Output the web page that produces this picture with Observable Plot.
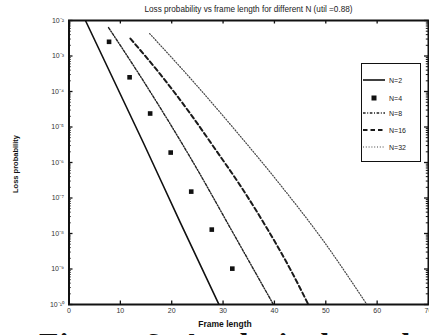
<!DOCTYPE html>
<html><head><meta charset="utf-8">
<script src="https://cdn.jsdelivr.net/npm/d3@7"></script>
<script src="https://cdn.jsdelivr.net/npm/@observablehq/plot@0.6"></script>
<style>
html,body{margin:0;padding:0;background:#fff;overflow:hidden;width:429px;height:335px;}
#wrap{position:relative;width:429px;height:335px;font-family:"Liberation Sans",Arial,sans-serif;}
#title{position:absolute;left:0;width:429px;top:5px;text-align:center;font-size:8.2px;color:#222;padding-left:68px;box-sizing:border-box;white-space:nowrap;}
#ylab{position:absolute;left:15px;top:164px;transform:translate(-50%,-50%) rotate(-90deg);font-size:7.5px;font-weight:bold;white-space:nowrap;color:#111;}
#xlab{position:absolute;left:225px;top:319px;transform:translateX(-50%);font-size:8.5px;font-weight:bold;white-space:nowrap;color:#111;z-index:2;}
#caption{position:absolute;left:39px;top:328px;font-family:"Liberation Serif","Times New Roman",serif;font-weight:bold;font-size:32px;line-height:32px;letter-spacing:1px;white-space:nowrap;color:#111;}
#legend{position:absolute;left:361px;top:63px;width:58px;height:97px;border:1.6px solid #111;background:#fff;}
.lg{position:absolute;left:0;height:10px;display:flex;align-items:center;font-size:7px;color:#222;}
.lg svg{display:block;margin-right:3px;}
#chart{position:absolute;left:0;top:0;}
</style></head>
<body><div id="wrap">
<div id="chart"></div>
<div id="title">Loss probability vs frame length for different N (util =0.88)</div>
<div id="ylab">Loss probability</div>
<div id="caption">Figure 6: Analytical results</div>
<div id="xlab">Frame length</div>
<div id="legend"></div>
</div>
<script>
// ---- data (log10 of loss probability) ----
const seriesNames = ["N=2", "N=4", "N=8", "N=16", "N=32"];
const n2X = [3.2, 14.5, 21.7, 29.2];
const n2LogP = [-2, -5.45, -7.7, -10];
const n4X = [7.8, 11.8, 15.8, 19.8, 23.8, 27.8, 31.8];
const n4LogP = [-2.6, -3.6, -4.62, -5.72, -6.82, -7.89, -8.99];
const n8X = [7.7, 13.5, 19.35, 25.2, 31.0, 39.8];
const n8LogP = [-2.2, -3.48, -4.83, -6.25, -7.74, -10];
const n16X = [11.96, 17.8, 23.6, 28.5, 33.35, 38.2, 43.1, 46.6];
const n16LogP = [-2.51, -3.52, -4.62, -5.63, -6.65, -7.77, -9.01, -10];
const n32X = [15.7, 24.2, 32.6, 41.1, 49.55, 58.0];
const n32LogP = [-2.37, -3.72, -5.13, -6.62, -8.21, -10];
const xTicks = [0, 10, 20, 30, 40, 50, 60, 70];
const yTicks = [1e-10, 1e-9, 1e-8, 1e-7, 1e-6, 1e-5, 1e-4, 1e-3, 1e-2];
const yTickLabels = ["10⁻¹⁰", "10⁻⁹", "10⁻⁸", "10⁻⁷", "10⁻⁶", "10⁻⁵", "10⁻⁴", "10⁻³", "10⁻²"];

const toRows = (xs, ls) => xs.map((x, i) => ({x, p: Math.pow(10, ls[i])}));
const d2 = toRows(n2X, n2LogP), d4 = toRows(n4X, n4LogP), d8 = toRows(n8X, n8LogP),
      d16 = toRows(n16X, n16LogP), d32 = toRows(n32X, n32LogP);

const W = 429, H = 322, mL = 68.5, mR = 1, mT = 20, mB = 18;
const iw = W - mL - mR, ih = H - mT - mB;
const yMinor = d3.scaleLog().domain([1e-10, 1e-2]).ticks().filter(v => !yTicks.some(t => Math.abs(Math.log10(t) - Math.log10(v)) < 1e-6));
const ink = "#111";

const styles = {
  "N=2": {stroke: ink, strokeWidth: 1.6},
  "N=8": {stroke: "#222", strokeWidth: 1.4, strokeDasharray: "2.6,1.6,1,1.6"},
  "N=16": {stroke: "#1a1a1a", strokeWidth: 2, strokeDasharray: "4.5,3"},
  "N=32": {stroke: "#444", strokeWidth: 1.2, strokeDasharray: "1,1.8"}
};

const chart = Plot.plot({
  width: W, height: H, marginLeft: mL, marginRight: mR, marginTop: mT, marginBottom: mB,
  style: {fontFamily: "Liberation Sans, Arial, sans-serif", background: "#fff"},
  x: {domain: [0, 70]},
  y: {type: "log", domain: [1e-10, 1e-2]},
  marks: [
    Plot.axisX({ticks: xTicks, tickSize: 0, tickPadding: 4, fontSize: 7, fill: "#333", label: null}),
    Plot.axisY({ticks: yTicks, tickSize: 0, tickPadding: 5, fontSize: 7, fill: "#333", label: null,
      tickFormat: d => yTickLabels[yTicks.indexOf(d)]}),
    Plot.tickX(xTicks, {x: d => d, insetTop: ih - 3.5, stroke: ink, strokeWidth: 1.3}),
    Plot.tickX(xTicks, {x: d => d, insetBottom: ih - 3.5, stroke: ink, strokeWidth: 1.3}),
    Plot.tickY(yTicks, {y: d => d, insetRight: iw - 4, stroke: ink, strokeWidth: 1.3}),
    Plot.tickY(yTicks, {y: d => d, insetLeft: iw - 4, stroke: ink, strokeWidth: 1.3}),
    Plot.tickY(yMinor, {y: d => d, insetRight: iw - 2.2, stroke: ink, strokeWidth: 1}),
    Plot.tickY(yMinor, {y: d => d, insetLeft: iw - 2.2, stroke: ink, strokeWidth: 1}),
    Plot.line(d32, {x: "x", y: "p", curve: "monotone-x", ...styles["N=32"], clip: true}),
    Plot.line(d16, {x: "x", y: "p", curve: "monotone-x", ...styles["N=16"], clip: true}),
    Plot.line(d8, {x: "x", y: "p", curve: "monotone-x", ...styles["N=8"], clip: true}),
    Plot.line(d2, {x: "x", y: "p", curve: "monotone-x", ...styles["N=2"], clip: true}),
    Plot.dot(d4, {x: "x", y: "p", symbol: "square", r: 2.6, fill: ink, stroke: "none"}),
    Plot.frame({stroke: ink, strokeWidth: 2})
  ]
});
document.getElementById("chart").appendChild(chart);

// legend
const legend = document.getElementById("legend");
const legendTops = [11, 29, 44, 61, 78];
seriesNames.forEach((name, i) => {
  const row = document.createElement("div");
  row.className = "lg";
  row.style.top = legendTops[i] + "px";
  const svg = d3.create("svg").attr("width", 24).attr("height", 10);
  if (name === "N=4") {
    svg.append("rect").attr("x", 9.5).attr("y", 2.5).attr("width", 5).attr("height", 5).attr("fill", ink);
  } else {
    const s = styles[name];
    svg.append("line").attr("x1", 1).attr("x2", 23).attr("y1", 5).attr("y2", 5)
      .attr("stroke", s.stroke).attr("stroke-width", s.strokeWidth)
      .attr("stroke-dasharray", s.strokeDasharray || null);
  }
  row.appendChild(svg.node());
  const t = document.createElement("span");
  t.textContent = name;
  row.appendChild(t);
  legend.appendChild(row);
});
</script>
</body></html>
